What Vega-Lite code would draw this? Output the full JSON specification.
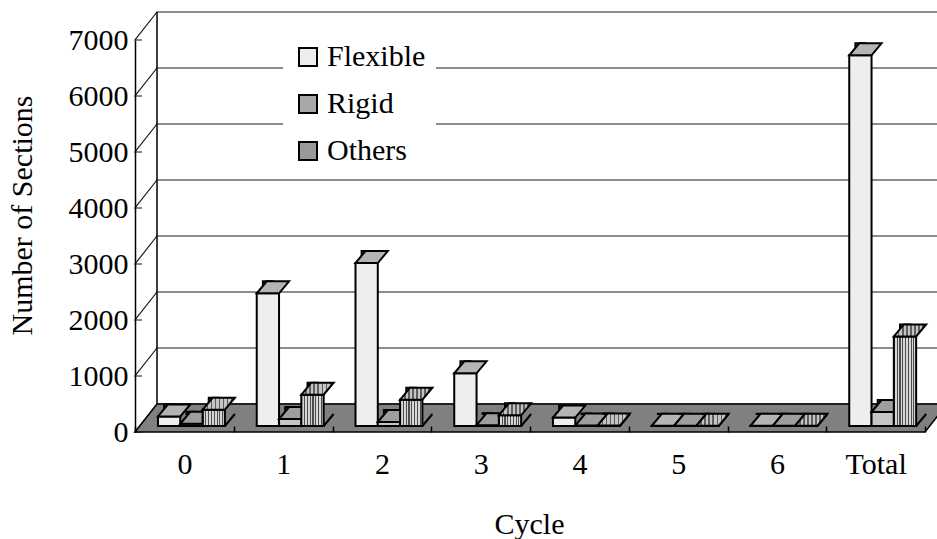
{
  "$schema": "https://vega.github.io/schema/vega-lite/v6.json",
  "width": 790,
  "height": 392,
  "autosize": {"type": "none"},
  "padding": {"left": 135, "top": 40, "right": 12, "bottom": 107},
  "background": "white",
  "config": {
    "view": {"stroke": null},
    "font": "Liberation Serif",
    "axis": {
      "labelFont": "Liberation Serif",
      "titleFont": "Liberation Serif",
      "labelFontSize": 30,
      "titleFontSize": 30,
      "titleFontWeight": "normal",
      "labelColor": "black",
      "titleColor": "black",
      "domainColor": "black",
      "tickColor": "black",
      "grid": false
    },
    "legend": {
      "orient": "none",
      "legendX": 148,
      "legendY": -8,
      "fillColor": "white",
      "padding": 10,
      "symbolType": "square",
      "symbolSize": 324,
      "symbolStrokeWidth": 2,
      "symbolStrokeColor": "black",
      "labelFont": "Liberation Serif",
      "labelFontSize": 30,
      "labelColor": "black",
      "labelOffset": 4,
      "labelLimit": 300,
      "rowPadding": 17
    }
  },
  "datasets": {
    "sections": [
      {"cycle": "0", "type": "Flexible", "value": 170},
      {"cycle": "0", "type": "Rigid", "value": 40},
      {"cycle": "0", "type": "Others", "value": 290},
      {"cycle": "1", "type": "Flexible", "value": 2370},
      {"cycle": "1", "type": "Rigid", "value": 125},
      {"cycle": "1", "type": "Others", "value": 560},
      {"cycle": "2", "type": "Flexible", "value": 2910},
      {"cycle": "2", "type": "Rigid", "value": 70},
      {"cycle": "2", "type": "Others", "value": 470},
      {"cycle": "3", "type": "Flexible", "value": 940},
      {"cycle": "3", "type": "Rigid", "value": 15},
      {"cycle": "3", "type": "Others", "value": 190},
      {"cycle": "4", "type": "Flexible", "value": 150},
      {"cycle": "4", "type": "Rigid", "value": 8},
      {"cycle": "4", "type": "Others", "value": 8},
      {"cycle": "5", "type": "Flexible", "value": 3},
      {"cycle": "5", "type": "Rigid", "value": 3},
      {"cycle": "5", "type": "Others", "value": 3},
      {"cycle": "6", "type": "Flexible", "value": 3},
      {"cycle": "6", "type": "Rigid", "value": 3},
      {"cycle": "6", "type": "Others", "value": 3},
      {"cycle": "Total", "type": "Flexible", "value": 6620},
      {"cycle": "Total", "type": "Rigid", "value": 250},
      {"cycle": "Total", "type": "Others", "value": 1600}
    ],
    "ticks": [
      {"v": 0}, {"v": 1000}, {"v": 2000}, {"v": 3000},
      {"v": 4000}, {"v": 5000}, {"v": 6000}, {"v": 7000}
    ]
  },
  "layer": [
    {
      "description": "inner tick, side-wall diagonal and back-wall gridline, one polyline per tick value",
      "data": {"name": "ticks"},
      "mark": {"type": "point", "shape": "M -42.375 0 L -49.375 0 L -27.375 -28 L 762.625 -28", "size": 4, "filled": false, "stroke": "#1a1a1a", "strokeWidth": 1.2, "opacity": 1},
      "encoding": {
        "x": {"datum": "0"},
        "y": {"field": "v", "type": "quantitative"}
      }
    },
    {
      "description": "floor slab and the back-left edge of the wall",
      "data": {"values": [{}]},
      "mark": {"type": "point", "shape": "M -49.375 0 L 740.625 0 L 762.625 -28 L -27.375 -28 Z M -27.375 -28 L -27.375 -420", "size": 4, "filled": true, "fill": "#808080", "stroke": "black", "strokeWidth": 1.5, "opacity": 1},
      "encoding": {
        "x": {"datum": "0"},
        "y": {"datum": 0, "type": "quantitative"}
      }
    },
    {
      "data": {"name": "sections"},
      "encoding": {
        "x": {
          "field": "cycle",
          "type": "nominal",
          "scale": {"domain": ["0", "1", "2", "3", "4", "5", "6", "Total"], "paddingInner": 0, "paddingOuter": 0},
          "axis": {
            "title": "Cycle",
            "labelAngle": 0,
            "labelAlign": "center",
            "domain": false,
            "tickBand": "extent",
            "tickSize": -6,
            "tickWidth": 1.5,
            "labelPadding": 38,
            "titleX": 394,
            "titleY": 101,
            "titleBaseline": "alphabetic",
            "zindex": 1
          }
        },
        "xOffset": {
          "field": "type",
          "type": "nominal",
          "scale": {"domain": ["Flexible", "Rigid", "Others"], "paddingInner": 0, "paddingOuter": 0.714, "align": 0.722}
        },
        "y": {
          "field": "value",
          "type": "quantitative",
          "scale": {"domain": [0, 7000], "nice": false, "zero": true},
          "axis": {
            "title": "Number of Sections",
            "values": [0, 1000, 2000, 3000, 4000, 5000, 6000, 7000],
            "format": "d",
            "ticks": false,
            "domainWidth": 1.5,
            "labelPadding": 7,
            "titleX": -113,
            "titleY": 175,
            "titleAngle": -90,
            "titleAlign": "center",
            "titleBaseline": "middle",
            "zindex": 1
          }
        }
      },
      "layer": [
        {
          "description": "Flexible: side face",
          "transform": [{"filter": "datum.type === 'Flexible'"}],
          "mark": {"type": "bar", "width": 10, "xOffset": 16.15, "yOffset": -18, "y2Offset": -6, "fill": "#7e7e7e", "stroke": "black", "strokeWidth": 2}
        },
        {
          "description": "Flexible: front face",
          "transform": [{"filter": "datum.type === 'Flexible'"}],
          "mark": {"type": "bar", "yOffset": -6, "y2Offset": -6, "stroke": "black", "strokeWidth": 2},
          "encoding": {
            "fill": {
              "field": "type",
              "type": "nominal",
              "scale": {"domain": ["Flexible", "Rigid", "Others"], "range": ["#eeeeee", "#a8a8a8", "#9a9a9a"]},
              "legend": {
                "title": null,
                "labelFont": "Liberation Serif",
                "labelFontSize": 30,
                "encode": {
                  "symbols": {
                    "update": {
                      "stroke": {"value": "black"},
                      "strokeWidth": {"value": 2}
                    }
                  },
                  "labels": {
                    "update": {
                      "font": {"value": "Liberation Serif"}
                    }
                  }
                }
              }
            }
          }
        },
        {
          "description": "Flexible: top face",
          "transform": [{"filter": "datum.type === 'Flexible'"}],
          "mark": {"type": "point", "shape": "M -11.15 0 L 11.15 0 L 21.15 -12 L -1.15 -12 Z", "size": 4, "filled": true, "fill": "#b4b4b4", "stroke": "black", "strokeWidth": 2, "opacity": 1, "yOffset": -6}
        },
        {
          "description": "Rigid: side face",
          "transform": [{"filter": "datum.type === 'Rigid'"}],
          "mark": {"type": "bar", "width": 10, "xOffset": 16.15, "yOffset": -18, "y2Offset": -6, "fill": "#707070", "stroke": "black", "strokeWidth": 2}
        },
        {
          "description": "Rigid: front face",
          "transform": [{"filter": "datum.type === 'Rigid'"}],
          "mark": {"type": "bar", "yOffset": -6, "y2Offset": -6, "fill": "#c6c6c6", "stroke": "black", "strokeWidth": 2}
        },
        {
          "description": "Rigid: top face",
          "transform": [{"filter": "datum.type === 'Rigid'"}],
          "mark": {"type": "point", "shape": "M -11.15 0 L 11.15 0 L 21.15 -12 L -1.15 -12 Z", "size": 4, "filled": true, "fill": "#9e9e9e", "stroke": "black", "strokeWidth": 2, "opacity": 1, "yOffset": -6}
        },
        {
          "description": "Others: side face",
          "transform": [{"filter": "datum.type === 'Others'"}],
          "mark": {
            "type": "bar", "width": 10, "xOffset": 16.15, "yOffset": -18, "y2Offset": -6, "stroke": "black", "strokeWidth": 2,
            "fill": {"gradient": "linear", "x1": 0, "y1": 0, "x2": 1, "y2": 0, "stops": [
              {"offset": 0, "color": "#262626"}, {"offset": 0.12, "color": "#262626"}, {"offset": 0.12, "color": "#808080"}, {"offset": 0.25, "color": "#808080"},
              {"offset": 0.25, "color": "#262626"}, {"offset": 0.37, "color": "#262626"}, {"offset": 0.37, "color": "#808080"}, {"offset": 0.5, "color": "#808080"},
              {"offset": 0.5, "color": "#262626"}, {"offset": 0.62, "color": "#262626"}, {"offset": 0.62, "color": "#808080"}, {"offset": 0.75, "color": "#808080"},
              {"offset": 0.75, "color": "#262626"}, {"offset": 0.87, "color": "#262626"}, {"offset": 0.87, "color": "#808080"}, {"offset": 1, "color": "#808080"}
            ]}
          }
        },
        {
          "description": "Others: floor patch under the slanted bottom of the side face",
          "transform": [{"filter": "datum.type === 'Others'"}],
          "mark": {"type": "point", "shape": "M 11.15 1.6 L 22.8 1.6 L 22.8 -12 L 21.15 -12 Z", "size": 4, "filled": true, "fill": "#808080", "strokeWidth": 0, "opacity": 1, "yOffset": -6},
          "encoding": {"y": {"datum": 0, "type": "quantitative"}}
        },
        {
          "description": "Others: bottom edge of the side face",
          "transform": [{"filter": "datum.type === 'Others'"}],
          "mark": {"type": "point", "shape": "M 11.15 0 L 21.15 -12", "size": 4, "filled": false, "stroke": "black", "strokeWidth": 2, "opacity": 1, "yOffset": -6},
          "encoding": {"y": {"datum": 0, "type": "quantitative"}}
        },
        {
          "description": "Others: front face",
          "transform": [{"filter": "datum.type === 'Others'"}],
          "mark": {
            "type": "bar", "yOffset": -6, "y2Offset": -6, "stroke": "black", "strokeWidth": 2,
            "fill": {"gradient": "linear", "x1": 0, "y1": 0, "x2": 1, "y2": 0, "stops": [
              {"offset": 0, "color": "#4d4d4d"}, {"offset": 0.05, "color": "#4d4d4d"}, {"offset": 0.05, "color": "#d6d6d6"}, {"offset": 0.125, "color": "#d6d6d6"},
              {"offset": 0.125, "color": "#4d4d4d"}, {"offset": 0.175, "color": "#4d4d4d"}, {"offset": 0.175, "color": "#d6d6d6"}, {"offset": 0.25, "color": "#d6d6d6"},
              {"offset": 0.25, "color": "#4d4d4d"}, {"offset": 0.3, "color": "#4d4d4d"}, {"offset": 0.3, "color": "#d6d6d6"}, {"offset": 0.375, "color": "#d6d6d6"},
              {"offset": 0.375, "color": "#4d4d4d"}, {"offset": 0.425, "color": "#4d4d4d"}, {"offset": 0.425, "color": "#d6d6d6"}, {"offset": 0.5, "color": "#d6d6d6"},
              {"offset": 0.5, "color": "#4d4d4d"}, {"offset": 0.55, "color": "#4d4d4d"}, {"offset": 0.55, "color": "#d6d6d6"}, {"offset": 0.625, "color": "#d6d6d6"},
              {"offset": 0.625, "color": "#4d4d4d"}, {"offset": 0.675, "color": "#4d4d4d"}, {"offset": 0.675, "color": "#d6d6d6"}, {"offset": 0.75, "color": "#d6d6d6"},
              {"offset": 0.75, "color": "#4d4d4d"}, {"offset": 0.8, "color": "#4d4d4d"}, {"offset": 0.8, "color": "#d6d6d6"}, {"offset": 0.875, "color": "#d6d6d6"},
              {"offset": 0.875, "color": "#4d4d4d"}, {"offset": 0.925, "color": "#4d4d4d"}, {"offset": 0.925, "color": "#d6d6d6"}, {"offset": 1, "color": "#d6d6d6"}
            ]}
          }
        },
        {
          "description": "Others: top face",
          "transform": [{"filter": "datum.type === 'Others'"}],
          "mark": {
            "type": "point", "shape": "M -11.15 0 L 11.15 0 L 21.15 -12 L -1.15 -12 Z", "size": 4, "filled": true, "stroke": "black", "strokeWidth": 2, "opacity": 1, "yOffset": -6,
            "fill": {"gradient": "linear", "x1": 0, "y1": 0, "x2": 1, "y2": 0, "stops": [
              {"offset": 0, "color": "#5e5e5e"}, {"offset": 0.05, "color": "#5e5e5e"}, {"offset": 0.05, "color": "#c4c4c4"}, {"offset": 0.125, "color": "#c4c4c4"},
              {"offset": 0.125, "color": "#5e5e5e"}, {"offset": 0.175, "color": "#5e5e5e"}, {"offset": 0.175, "color": "#c4c4c4"}, {"offset": 0.25, "color": "#c4c4c4"},
              {"offset": 0.25, "color": "#5e5e5e"}, {"offset": 0.3, "color": "#5e5e5e"}, {"offset": 0.3, "color": "#c4c4c4"}, {"offset": 0.375, "color": "#c4c4c4"},
              {"offset": 0.375, "color": "#5e5e5e"}, {"offset": 0.425, "color": "#5e5e5e"}, {"offset": 0.425, "color": "#c4c4c4"}, {"offset": 0.5, "color": "#c4c4c4"},
              {"offset": 0.5, "color": "#5e5e5e"}, {"offset": 0.55, "color": "#5e5e5e"}, {"offset": 0.55, "color": "#c4c4c4"}, {"offset": 0.625, "color": "#c4c4c4"},
              {"offset": 0.625, "color": "#5e5e5e"}, {"offset": 0.675, "color": "#5e5e5e"}, {"offset": 0.675, "color": "#c4c4c4"}, {"offset": 0.75, "color": "#c4c4c4"},
              {"offset": 0.75, "color": "#5e5e5e"}, {"offset": 0.8, "color": "#5e5e5e"}, {"offset": 0.8, "color": "#c4c4c4"}, {"offset": 0.875, "color": "#c4c4c4"},
              {"offset": 0.875, "color": "#5e5e5e"}, {"offset": 0.925, "color": "#5e5e5e"}, {"offset": 0.925, "color": "#c4c4c4"}, {"offset": 1, "color": "#c4c4c4"}
            ]}
          }
        }
      ]
    }
  ]
}
